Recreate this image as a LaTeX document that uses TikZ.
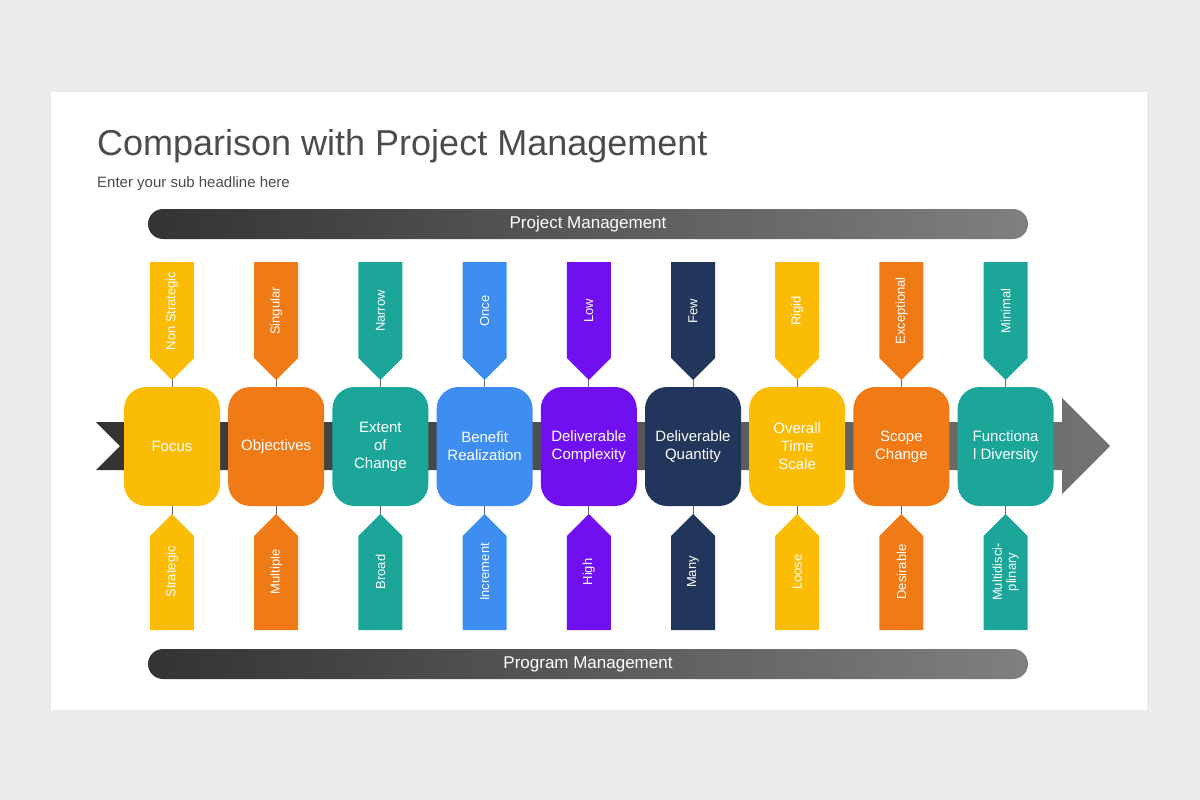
\documentclass[tikz,border=0pt]{standalone}
\usepackage{fontspec}
\setmainfont{Liberation Sans}
\begin{document}
\begin{tikzpicture}[x=1pt,y=-1pt,
  box/.style={rounded corners=22pt,minimum width=96pt,minimum height=119pt,inner sep=0pt,align=center,text=white,font=\fontsize{15}{18}\selectfont},
  tagtxt/.style={rotate=90,text=white,font=\fontsize{13}{14}\selectfont,align=center},
  bar/.style={rounded corners=15pt,left color=black!80,right color=black!50},
  conn/.style={draw=black!60,line width=1pt}]
\definecolor{cy}{HTML}{FBBC05}\definecolor{co}{HTML}{F07B16}\definecolor{ct}{HTML}{1BA699}
\definecolor{cb}{HTML}{3D8EF0}\definecolor{cp}{HTML}{7010F0}\definecolor{cn}{HTML}{22355A}
\fill[black!8] (0,0) rectangle (1200,800);
\useasboundingbox (0,0) rectangle (1200,800);
\fill[white] (51,92) rectangle (1147,710);
\node[anchor=base west,text=black!70,font=\fontsize{36}{40}\selectfont,inner sep=0pt] (title) at (97,155) {Comparison with Project Management};
\node[anchor=base west,text=black!70,font=\fontsize{15}{18}\selectfont,inner sep=0pt] (sub) at (97,187) {Enter your sub headline here};
\shade[bar] (148,209) rectangle (1028,239);
\node[text=white,font=\fontsize{17}{20}\selectfont] (pm) at (588,224) {Project Management};
\shade[bar] (148,649) rectangle (1028,679);
\node[text=white,font=\fontsize{17}{20}\selectfont] (pg) at (588,664) {Program Management};
\shade[left color=black!80,right color=black!55] (96,422) -- (1062,422) -- (1062,398) -- (1110,446) -- (1062,494) -- (1062,470) -- (96,470) -- (120,446) -- cycle;
\foreach \i/\c/\lab/\top/\bot in {
 0/cy/Focus/Non Strategic/Strategic,
 1/co/Objectives/Singular/Multiple,
 2/ct/{Extent\\of\\Change}/Narrow/Broad,
 3/cb/{Benefit\\Realization}/Once/Increment,
 4/cp/{Deliverable\\Complexity}/Low/High,
 5/cn/{Deliverable\\Quantity}/Few/Many,
 6/cy/{Overall\\Time\\Scale}/Rigid/Loose,
 7/co/{Scope\\Change}/Exceptional/Desirable,
 8/ct/{Functiona\\l Diversity}/Minimal/{Multidisci-\\plinary}}{
  \pgfmathsetmacro{\cx}{172+104.2*\i}
  \draw[conn] (\cx,378) -- (\cx,388);
  \draw[conn] (\cx,505) -- (\cx,516);
  \node[box,fill=\c] (b\i) at (\cx,446.5) {\lab};
  \fill[\c] (\cx-22,262) -- (\cx+22,262) -- (\cx+22,358) -- (\cx,380) -- (\cx-22,358) -- cycle;
  \node[tagtxt] (t\i) at (\cx,311) {\top};
  \fill[\c] (\cx,514) -- (\cx+22,536) -- (\cx+22,630) -- (\cx-22,630) -- (\cx-22,536) -- cycle;
  \node[tagtxt] (u\i) at (\cx,572) {\bot};
}
\end{tikzpicture}
\end{document}
